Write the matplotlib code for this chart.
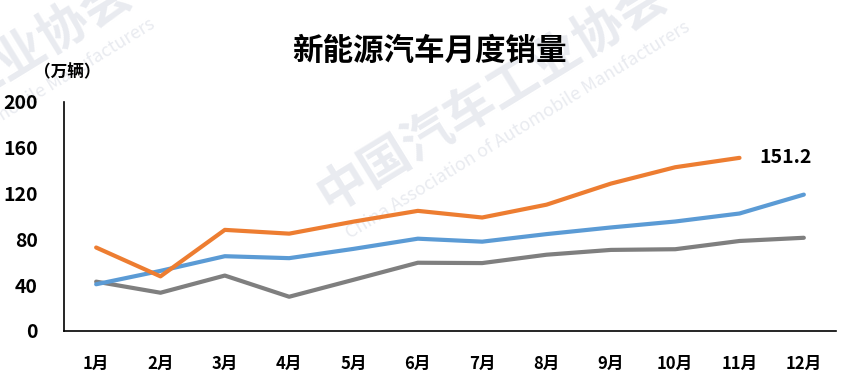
import matplotlib.pyplot as plt
import numpy as np

plt.rcParams['font.family'] = ['Noto Sans CJK SC', 'DejaVu Sans']

months = ['1月', '2月', '3月', '4月', '5月', '6月', '7月', '8月', '9月', '10月', '11月', '12月']
sales_2024 = [72.9, 47.7, 88.3, 85.0, 95.5, 104.9, 99.1, 110.3, 128.7, 143.0, 151.2]
sales_2023 = [40.8, 52.5, 65.3, 63.6, 71.7, 80.6, 78.0, 84.6, 90.4, 95.6, 102.6, 119.1]
sales_2022 = [43.1, 33.4, 48.4, 29.9, 44.7, 59.6, 59.3, 66.6, 70.8, 71.4, 78.6, 81.4]
y_ticks = [0, 40, 80, 120, 160, 200]

fig = plt.figure(figsize=(8.43, 3.91), dpi=100, facecolor='w')

# faint watermark (main copy and a cut-off copy top left)
wm = '#e9ebf0'
for dx, dy in [(0, 0), (-0.635, 0.008)]:
    fig.text(0.382 + dx, 0.488 + dy, '中国汽车工业协会', fontsize=36, fontweight='bold',
             color=wm, rotation=31.5, rotation_mode='anchor',
             ha='left', va='center', zorder=-1)
    fig.text(0.412 + dx, 0.399 + dy, 'China Association of Automobile Manufacturers',
             fontsize=13, color=wm, rotation=31.5, rotation_mode='anchor',
             ha='left', va='center', zorder=-1)

ax = fig.add_axes([0.0759, 0.1535, 0.9158, 0.5857])
ax.patch.set_alpha(0)

x = np.arange(len(months))
ax.plot(x[:len(sales_2022)], sales_2022, color='#7f7f7f', linewidth=3,
        solid_capstyle='round')
ax.plot(x[:len(sales_2023)], sales_2023, color='#5b9bd5', linewidth=3,
        solid_capstyle='round')
ax.plot(x[:len(sales_2024)], sales_2024, color='#ed7d31', linewidth=3,
        solid_capstyle='round')

last = len(sales_2024) - 1
ax.annotate('%.1f' % sales_2024[last], (x[last], sales_2024[last]),
            xytext=(14, 0), textcoords='offset points', ha='left', va='center',
            fontsize=14, fontweight='bold', color='black')

ax.set_xlim(-0.5, len(months) - 0.5)
ax.set_ylim(0, 200)
ax.set_xticks(x)
ax.set_xticklabels(months, fontsize=12, fontweight='bold')
ax.set_yticks(y_ticks)
ax.set_yticklabels([str(v) for v in y_ticks], fontsize=14, fontweight='bold')
ax.tick_params(axis='x', length=0, pad=17)
ax.tick_params(axis='y', length=0, pad=19)

ax.spines['top'].set_visible(False)
ax.spines['right'].set_visible(False)
ax.spines['left'].set_linewidth(1.2)
ax.spines['bottom'].set_linewidth(1.2)

fig.text(0.51, 0.87, '新能源汽车月度销量', fontsize=22, fontweight='bold',
         ha='center', va='center')
fig.text(0.08, 0.815, '（万辆）', fontsize=12, fontweight='bold',
         ha='center', va='center')

fig.savefig('out.png', dpi=100)
